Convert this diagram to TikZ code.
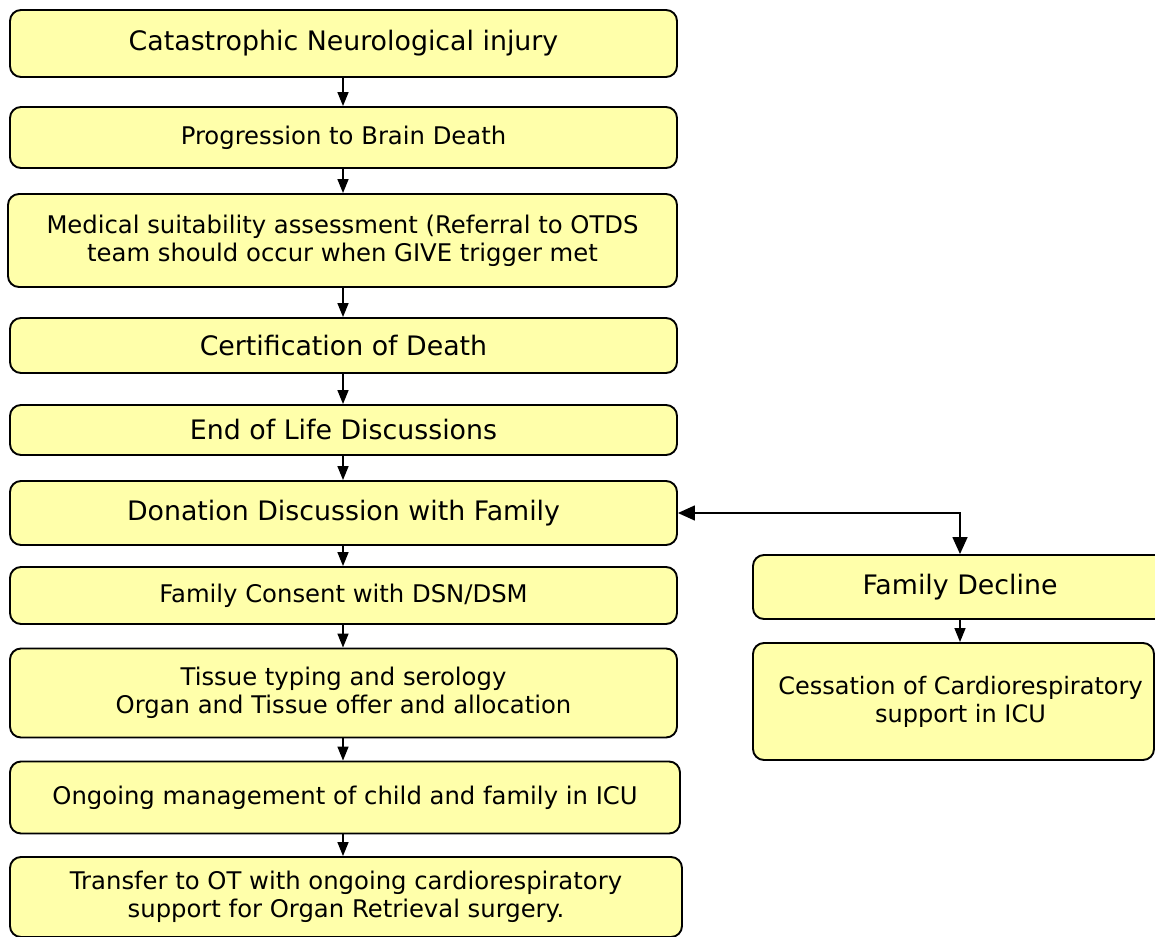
\documentclass[tikz,border=0pt]{standalone}
\usepackage{fontspec}
\setmainfont{DejaVu Sans}
\usetikzlibrary{arrows.meta,calc}
\definecolor{boxfill}{HTML}{FFFFAA}
\tikzset{
  box/.style={draw=black, line width=1.9pt, fill=boxfill, rounded corners=11pt, align=center, inner sep=0pt},
  arr/.style={line width=1.5pt, -{Triangle[length=14pt,width=11pt]}},
  darr/.style={line width=1.5pt, {Triangle[length=17pt,width=15pt]}-{Triangle[length=17pt,width=15pt]}},
  fbig/.style={font=\fontsize{26.8}{28}\selectfont},
  fmid/.style={font=\fontsize{24.3}{28}\selectfont},
  fsml/.style={font=\fontsize{24}{28}\selectfont},
}
\begin{document}
\begin{tikzpicture}[x=1pt,y=-1pt]
\useasboundingbox (0,0) rectangle (1155,936);
\node[box,fbig,minimum width=667pt,minimum height=67pt] (n1) at (343.5,43.5) {Catastrophic Neurological injury};
\node[box,fmid,minimum width=667pt,minimum height=61pt] (n2) at (343.5,137.5) {Progression to Brain Death};
\node[box,fmid,minimum width=669pt,minimum height=93pt] (n3) at (342.5,240.5) {Medical suitability assessment (Referral to OTDS\\team should occur when GIVE trigger met};
\node[box,fbig,minimum width=667pt,minimum height=55pt] (n4) at (343.5,345.5) {Certification of Death};
\node[box,fbig,minimum width=667pt,minimum height=50pt] (n5) at (343.5,430) {End of Life Discussions};
\node[box,fbig,minimum width=667pt,minimum height=64pt] (n6) at (343.5,513) {Donation Discussion with Family};
\node[box,fmid,minimum width=667pt,minimum height=57pt] (n7) at (343.5,595.5) {Family Consent with DSN/DSM};
\node[box,fmid,minimum width=667pt,minimum height=89pt] (n8) at (343.5,693) {Tissue typing and serology\\Organ and Tissue offer and allocation};
\node[box,fmid,minimum width=670pt,minimum height=72pt] (n9) at (345,797.5) {Ongoing management of child and family in ICU};
\node[box,fmid,minimum width=672pt,minimum height=80pt] (n10) at (346,897) {Transfer to OT with ongoing cardiorespiratory\\support for Organ Retrieval surgery.};
\node[box,fbig,minimum width=414pt,minimum height=64pt] (n11) at (960,587) {Family Decline};
\node[box,fsml,minimum width=401pt,minimum height=117pt] (n12) at (953.5,701.5) {\hspace*{14pt}Cessation of Cardiorespiratory\\\hspace*{14pt}support in ICU};
\foreach \a/\b in {n1/n2,n2/n3,n3/n4,n4/n5,n5/n6,n6/n7,n7/n8,n8/n9,n9/n10}
  \draw[arr] (343,0 |- \a.south) -- (343,0 |- \b.north);
\draw[darr] (n6.east) -| (n11.north);
\draw[arr] (n11.south) -- (n11.south |- n12.north);
\end{tikzpicture}
\end{document}
